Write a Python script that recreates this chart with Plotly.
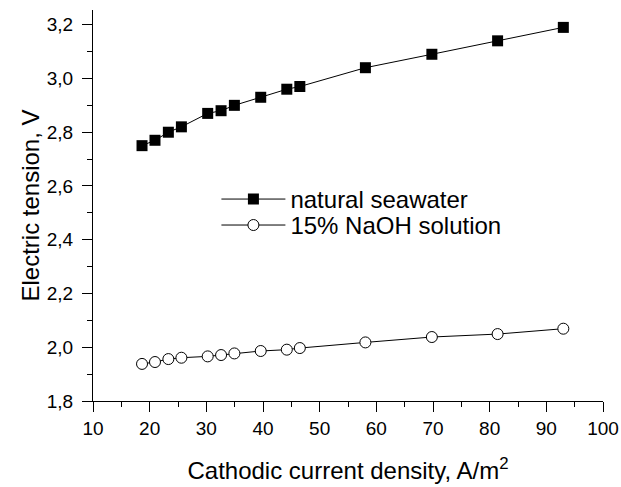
import plotly.graph_objects as go

current_density = [18.65, 20.94, 23.3, 25.6, 30.24, 32.6, 34.95, 39.6, 44.2, 46.5, 58.07, 69.8, 81.4, 93.0]
tension_seawater = [2.75, 2.77, 2.80, 2.82, 2.87, 2.88, 2.90, 2.93, 2.96, 2.97, 3.04, 3.09, 3.14, 3.19]
tension_naoh = [1.938, 1.945, 1.956, 1.961, 1.966, 1.971, 1.977, 1.986, 1.991, 1.997, 2.018, 2.038, 2.049, 2.069]
series_names = ["natural seawater", "15% NaOH solution"]
x_title = "Cathodic current density, A/m<sup>2</sup>"
y_title = "Electric tension, V"

FONT = "Liberation Sans, Arial, sans-serif"

fig = go.Figure()
fig.add_trace(go.Scatter(
    x=current_density, y=tension_seawater, name=series_names[0],
    mode="lines+markers", legend="legend",
    line=dict(color="black", width=1),
    marker=dict(symbol="square", size=11, color="black", line=dict(color="black", width=0)),
))
fig.add_trace(go.Scatter(
    x=current_density, y=tension_naoh, name=series_names[1],
    mode="lines+markers", legend="legend2",
    line=dict(color="black", width=1),
    marker=dict(symbol="circle", size=11, color="white", line=dict(color="black", width=1)),
))

axis_common = dict(
    showline=True, linecolor="black", linewidth=1.3,
    ticks="outside", ticklen=10, tickwidth=1.3, tickcolor="black",
    showgrid=False, zeroline=False,
    tickfont=dict(family=FONT, size=19, color="black"),
    title_font=dict(family=FONT, size=24, color="black"),
    mirror=False,
)

fig.update_xaxes(
    range=[10, 100], dtick=10, tick0=10,
    minor=dict(dtick=5, ticks="outside", ticklen=5, tickwidth=1.3, tickcolor="black", showgrid=False),
    title=dict(text=x_title, standoff=24),
    ticklabelstandoff=0,
    **axis_common,
)
fig.update_yaxes(
    range=[1.8, 3.2547], dtick=0.2, tick0=1.8, tickformat=".1f",
    minor=dict(dtick=0.1, ticks="outside", ticklen=5, tickwidth=1.3, tickcolor="black", showgrid=False),
    title=dict(text=y_title, standoff=0),
    ticklabelstandoff=5,
    **axis_common,
)

legend_common = dict(
    xanchor="left", yanchor="top",
    font=dict(family=FONT, size=24, color="black"),
    bgcolor="rgba(0,0,0,0)", borderwidth=0,
    itemwidth=64,
)

fig.update_layout(
    width=621, height=487,
    margin=dict(l=93.3, r=17.7, t=10, b=85.7, autoexpand=False),
    paper_bgcolor="white", plot_bgcolor="white",
    separators=",.",
    font=dict(family=FONT, color="black"),
    legend=dict(x=0.242, y=0.573, **legend_common),
    legend2=dict(x=0.242, y=0.5066, **legend_common),
    showlegend=True,
)

fig.write_html("out.html", config={"displayModeBar": False},
               post_script="document.body.style.margin='0';")
